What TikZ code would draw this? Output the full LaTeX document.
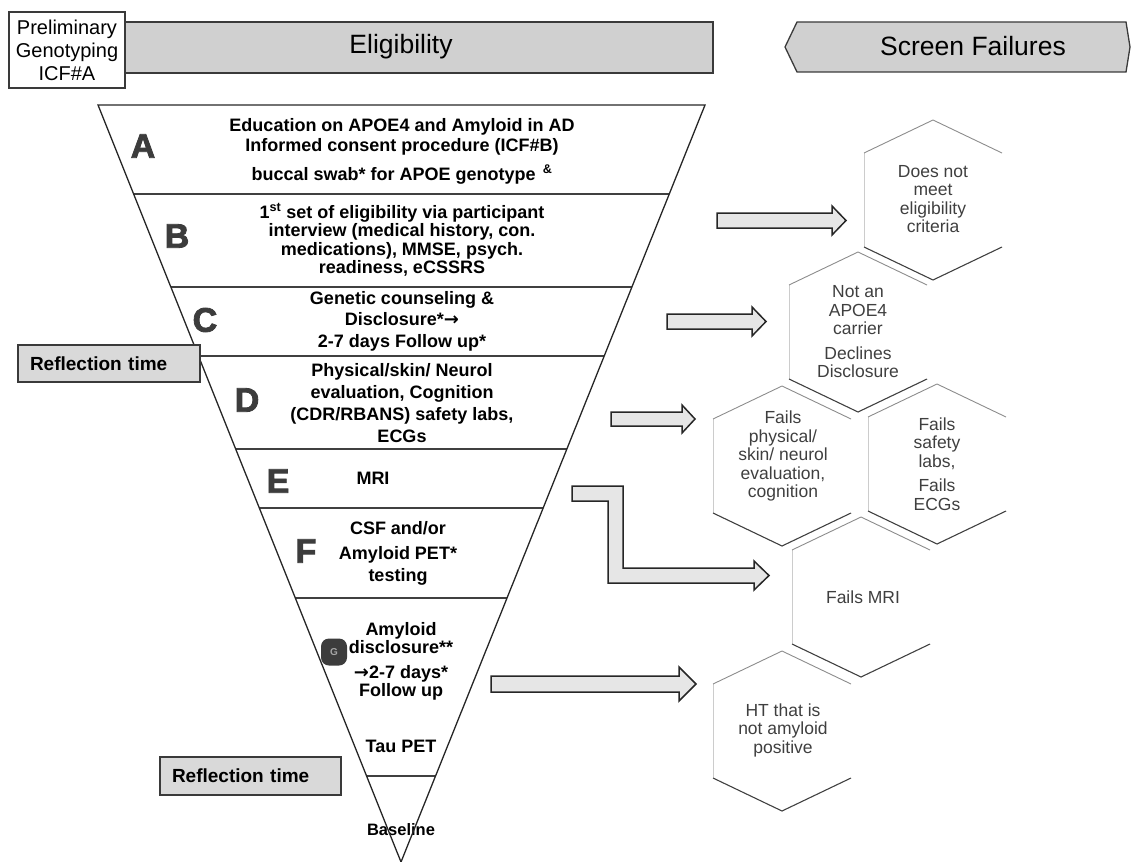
\documentclass[tikz,border=0pt]{standalone}
\usepackage{fontspec}
\setmainfont{Liberation Sans}
\newfontfamily\arrowfont{DejaVu Sans}
\newfontfamily\badgefont[BoldFeatures={FakeBold=2.5}]{Liberation Sans}
\usetikzlibrary{calc}
\definecolor{barfill}{HTML}{D0D0D0}
\definecolor{reffill}{HTML}{D9D9D9}
\definecolor{arrfill}{HTML}{E6E6E6}
\definecolor{edgecol}{HTML}{3A3A3A}
\definecolor{hextextcol}{HTML}{3F3F3F}
\definecolor{badgecol}{HTML}{3C3C3C}
\newcommand\rarr{{\arrowfont\bfseries →}}
\newcommand\hexcell[4]{%
  \coordinate (#1) at (#2,#3);
  \draw[hexlight] ($(#1)+(-69,47)$) -- ($(#1)+(-69,-47)$);
  \draw[hexmid] ($(#1)+(-69,-47)$) -- ($(#1)+(0,-80)$) -- ($(#1)+(69,-47)$);
  \draw[hexdark] ($(#1)+(-69,47)$) -- ($(#1)+(0,80)$) -- ($(#1)+(69,47)$);
}
\begin{document}
\begin{tikzpicture}[x=1pt,y=-1pt,
  hdr/.style={draw=edgecol, line width=1.3pt, fill=barfill},
  hdrtext/.style={font=\fontsize{26.5}{30}\selectfont, inner sep=0},
  steptext/.style={font=\fontsize{18}{19}\selectfont\bfseries, align=center, inner sep=0},
  hextxt/.style={font=\fontsize{17.5}{18.5}\selectfont, text=hextextcol, align=center, inner sep=0},
  badgeletter/.style={font=\fontsize{34}{34}\selectfont\badgefont\bfseries, text=badgecol, inner sep=0},
  refbox/.style={draw=edgecol, fill=reffill, line width=1.3pt, align=left, inner xsep=12pt,
     minimum height=37pt, font=\fontsize{19}{21}\selectfont\bfseries},
  divider/.style={draw=black!75, line width=2pt},
  tri/.style={draw=black!85, line width=1.3pt},
  blockarrow/.style={draw=black!85, line width=1.5pt, fill=arrfill, line join=miter},
  hexlight/.style={draw=black!20, line width=0.8pt},
  hexmid/.style={draw=black!45, line width=0.9pt},
  hexdark/.style={draw=black!75, line width=1.1pt},
]
\useasboundingbox (0,0) rectangle (1131,861);

% ---- headers
\node[hdr, minimum width=116pt, minimum height=76pt, fill=white, align=center,
      font=\fontsize{20}{23}\selectfont, inner sep=0] (prelim) at (67,50)
      {Preliminary\\Genotyping\\ICF\#A};
\node[hdr, minimum width=588pt, minimum height=51pt, inner sep=0] (elig) at (419,47.5) {};
\node[hdrtext] (eligtxt) at (401,47) {Eligibility};
\draw[hdr] (785,47) -- (797,22) -- (1126,22) -- (1130,47) -- (1126,72) -- (797,72) -- cycle;
\node[hdrtext] (scrtxt) at (973,46) {Screen Failures};

% ---- funnel
\coordinate (TL) at (98,105);
\coordinate (TR) at (705,105);
\coordinate (Ap) at (401,862);

\draw[divider] (133.6,194) -- (669.3,194);
\draw[divider] (170.8,287) -- (631.9,287);
\draw[divider] (198.5,356) -- (604.2,356);
\draw[divider] (235.7,449) -- (566.9,449);
\draw[divider] (259.3,508) -- (543.2,508);
\draw[divider] (295.3,598) -- (507.0,598);
\draw[divider] (366.6,776) -- (435.5,776);

% step texts
\node[steptext, font=\fontsize{18}{20}\selectfont\bfseries] (ta) at (402,151)
  {Education on APOE4 and Amyloid in AD\\Informed consent procedure (ICF\#B)\\[9pt]buccal swab* for APOE genotype \textsuperscript{\,\&}};
\node[steptext, font=\fontsize{18}{18.4}\selectfont\bfseries] (tb) at (402,240)
  {1\textsuperscript{st} set of eligibility via participant\\interview (medical history, con.\\medications), MMSE, psych.\\readiness, eCSSRS};
\node[steptext, font=\fontsize{18}{21.5}\selectfont\bfseries] (tc) at (402,321)
  {Genetic counseling \&\\Disclosure*\rarr\\2-7 days Follow up*};
\node[steptext, font=\fontsize{18}{22}\selectfont\bfseries] (td) at (402,403)
  {Physical/skin/ Neurol\\evaluation, Cognition\\(CDR/RBANS) safety labs,\\ECGs};
\node[steptext] (te) at (373,478) {MRI};
\node[steptext, font=\fontsize{18}{21.5}\selectfont\bfseries] (tf) at (398,553)
  {CSF and/or\\[4pt]Amyloid PET*\\testing};
\node[steptext, font=\fontsize{18}{18.5}\selectfont\bfseries] (tg1) at (401,638) {Amyloid\\disclosure**};
\node[steptext, font=\fontsize{18}{17.5}\selectfont\bfseries] (tg2) at (401,683) {\rarr2-7 days*\\Follow up};
\node[steptext] (tg3) at (401,746) {Tau PET};
\node[steptext, font=\fontsize{16.5}{18}\selectfont\bfseries] (tbase) at (401,830) {Baseline};

% badge letters
\node[badgeletter] (la) at (143,146) {A};
\node[badgeletter] (lb) at (177,236) {B};
\node[badgeletter] (lc) at (205,320) {C};
\node[badgeletter] (ld) at (247,400) {D};
\node[badgeletter] (le) at (278,481) {E};
\node[badgeletter] (lf) at (306,551) {F};
\node[fill=badgecol, rounded corners=8pt, minimum width=26pt, minimum height=27pt, inner sep=0,
      text=black!35, font=\fontsize{10}{10}\selectfont\bfseries] (lg) at (334,652) {G};

\draw[tri] (TL) -- (TR) -- (Ap) -- cycle;

% reflection boxes
\node[refbox, text width=158pt] (ref1) at (109,363.5) {Reflection time};
\node[refbox, text width=157pt, minimum height=38pt] (ref2) at (250.5,776) {Reflection time};

% ---- block arrows
\draw[blockarrow] (717,213) -- (832,213) -- (832,206) -- (846,220.5) -- (832,235) -- (832,228) -- (717,228) -- cycle;
\draw[blockarrow] (667,314) -- (752,314) -- (752,307) -- (766,321.5) -- (752,336) -- (752,329) -- (667,329) -- cycle;
\draw[blockarrow] (611,412) -- (682,412) -- (682,405) -- (695,419) -- (682,433) -- (682,426) -- (611,426) -- cycle;
\draw[blockarrow] (572,486) -- (623,486) -- (623,568) -- (754,568) -- (754,561) -- (769,575.5) -- (754,590) -- (754,583) -- (608,583) -- (608,501) -- (572,501) -- cycle;
\draw[blockarrow] (491,676) -- (679,676) -- (679,667) -- (696,684) -- (679,701) -- (679,692) -- (491,692) -- cycle;

% ---- screen failure hexagons
\hexcell{h1}{933}{200}{}
\node[hextxt] (h1t) at (933,199) {Does not\\meet\\eligibility\\criteria};
\hexcell{h2}{858}{332}{}
\node[hextxt] (h2t) at (858,332) {Not an\\APOE4\\carrier\\[6pt]Declines\\Disclosure};
\hexcell{h3}{782}{466}{}
\node[hextxt] (h3t) at (783,456) {Fails\\physical/\\skin/ neurol\\evaluation,\\cognition};
\hexcell{h4}{937}{464}{}
\node[hextxt] (h4t) at (937,464) {Fails\\safety\\labs,\\[6pt]Fails\\ECGs};
\hexcell{h5}{861}{597}{}
\node[hextxt] (h5t) at (863,597) {Fails MRI};
\hexcell{h6}{782}{731}{}
\node[hextxt] (h6t) at (783,730) {HT that is\\not amyloid\\positive};
\end{tikzpicture}
\end{document}
